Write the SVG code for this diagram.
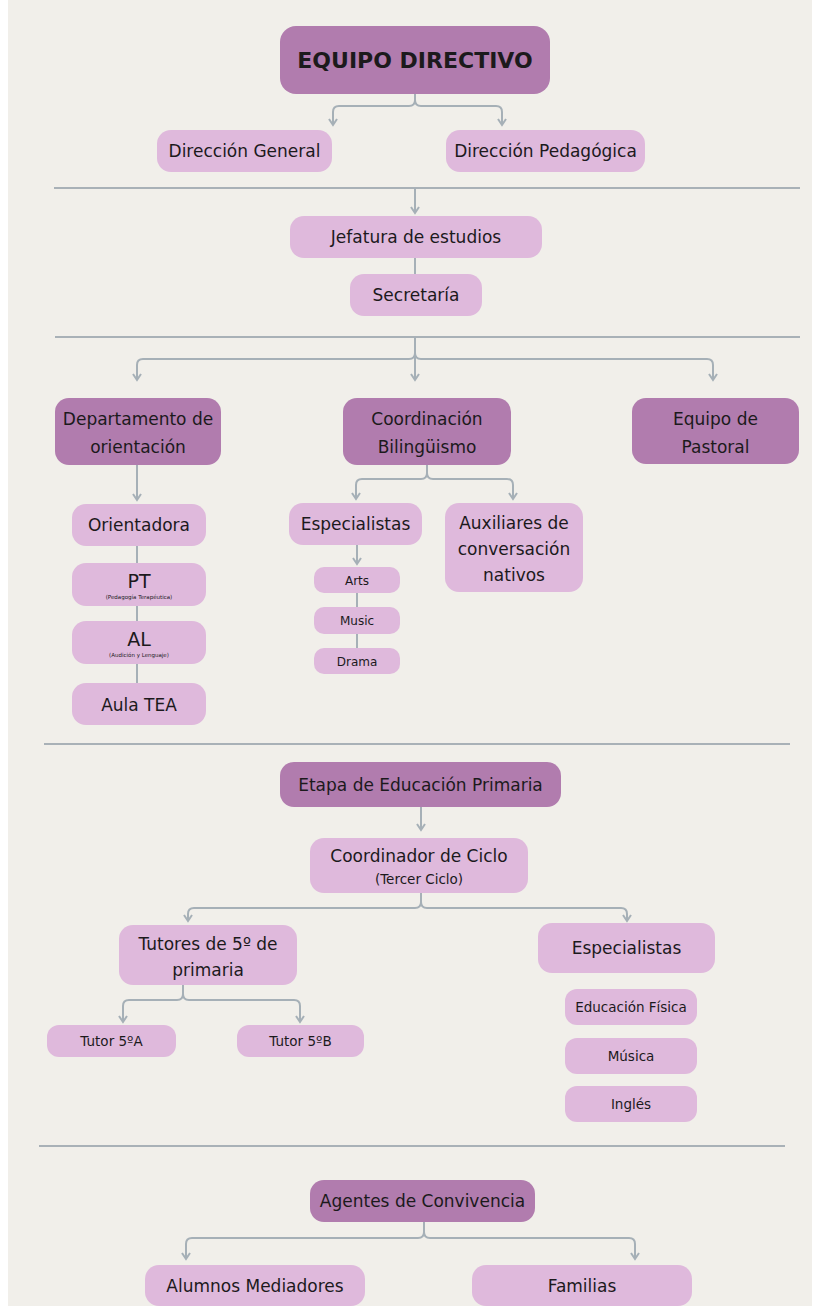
<svg xmlns="http://www.w3.org/2000/svg" width="820" height="1306" viewBox="0 0 820 1306">
<defs>
<style>
.bg{fill:#f1efea}
.dark{fill:#b17cae}
.light{fill:#dfb9dc}
text{font-family:"DejaVu Sans","Liberation Sans",sans-serif;fill:#1c1a1c;text-anchor:middle}
.t18{font-size:17px}
.t16{font-size:15px}
.t14{font-size:13.5px}
.t12{font-size:12px}
.sep{stroke:#a9b1b7;stroke-width:2;fill:none}
.con{stroke:#a6b0b7;stroke-width:2;fill:none}
.arr{marker-end:url(#ah)}
</style>
<marker id="ah" viewBox="0 0 10 10" refX="8" refY="5" markerWidth="10" markerHeight="10" orient="auto" markerUnits="userSpaceOnUse">
<path d="M2,1 L8,5 L2,9" fill="none" stroke="#a6b0b7" stroke-width="2"/>
</marker>
</defs>
<rect width="820" height="1306" fill="#ffffff"/>
<rect class="bg" x="8" y="0" width="804" height="1306"/>

<g id="separators">
<line class="sep" x1="54" y1="188" x2="800" y2="188"/>
<line class="sep" x1="55" y1="337" x2="800" y2="337"/>
<line class="sep" x1="44" y1="744" x2="790" y2="744"/>
<line class="sep" x1="39" y1="1146" x2="785" y2="1146"/>
</g>

<g id="connectors">
<path class="con arr" d="M415,94 V100 Q415,106 409,106 H339 Q333,106 333,112 V125"/>
<path class="con arr" d="M415,94 V100 Q415,106 421,106 H496 Q502,106 502,112 V125"/>
<path class="con arr" d="M415,188 V213"/>
<path class="con" d="M415,258 V274"/>
<path class="con arr" d="M415,337 V380"/>
<path class="con arr" d="M415,347 V353 Q415,359 409,359 H143 Q137,359 137,365 V380"/>
<path class="con arr" d="M415,347 V353 Q415,359 421,359 H707 Q713,359 713,365 V380"/>
<path class="con arr" d="M137,465 V500"/>
<path class="con" d="M137,546 V683"/>
<path class="con arr" d="M427,465 V473 Q427,479 421,479 H362 Q356,479 356,485 V499"/>
<path class="con arr" d="M427,465 V473 Q427,479 433,479 H507 Q513,479 513,485 V499"/>
<path class="con arr" d="M357,545 V564"/>
<path class="con" d="M357,593 V648"/>
<path class="con arr" d="M421,807 V830"/>
<path class="con arr" d="M421,893 V902 Q421,908 415,908 H194 Q188,908 188,914 V921"/>
<path class="con arr" d="M421,893 V902 Q421,908 427,908 H621 Q627,908 627,914 V921"/>
<path class="con arr" d="M183,985 V994 Q183,1000 177,1000 H129 Q123,1000 123,1006 V1022"/>
<path class="con arr" d="M183,985 V994 Q183,1000 189,1000 H294 Q300,1000 300,1006 V1022"/>
<path class="con arr" d="M424,1222 V1232 Q424,1238 418,1238 H192 Q186,1238 186,1244 V1259"/>
<path class="con arr" d="M424,1222 V1232 Q424,1238 430,1238 H629 Q635,1238 635,1244 V1259"/>
</g>

<g id="equipo-directivo">
<rect class="dark" x="280" y="26" width="270" height="68" rx="16"/>
<text x="415" y="68" style="font-size:22px;font-weight:bold">EQUIPO DIRECTIVO</text>
</g>
<g id="direccion-general">
<rect class="light" x="157" y="130" width="175" height="42" rx="14"/>
<text class="t18" x="244.5" y="157">Dirección General</text>
</g>
<g id="direccion-pedagogica">
<rect class="light" x="446" y="130" width="199" height="42" rx="14"/>
<text class="t18" x="545.5" y="157">Dirección Pedagógica</text>
</g>
<g id="jefatura">
<rect class="light" x="290" y="216" width="252" height="42" rx="14"/>
<text class="t18" x="416" y="243">Jefatura de estudios</text>
</g>
<g id="secretaria">
<rect class="light" x="350" y="274" width="132" height="42" rx="14"/>
<text class="t18" x="416" y="301">Secretaría</text>
</g>
<g id="depto-orientacion">
<rect class="dark" x="55" y="398" width="166" height="67" rx="14"/>
<text class="t18" x="138" y="425">Departamento de</text>
<text class="t18" x="138" y="453">orientación</text>
</g>
<g id="coord-bilinguismo">
<rect class="dark" x="343" y="398" width="168" height="67" rx="14"/>
<text class="t18" x="427" y="425">Coordinación</text>
<text class="t18" x="427" y="453">Bilingüismo</text>
</g>
<g id="equipo-pastoral">
<rect class="dark" x="632" y="398" width="167" height="66" rx="14"/>
<text class="t18" x="715.5" y="425">Equipo de</text>
<text class="t18" x="715.5" y="453">Pastoral</text>
</g>
<g id="orientadora">
<rect class="light" x="72" y="504" width="134" height="42" rx="14"/>
<text class="t18" x="139" y="531">Orientadora</text>
</g>
<g id="pt">
<rect class="light" x="72" y="563" width="134" height="43" rx="14"/>
<text x="139" y="588" style="font-size:19px">PT</text>
<text x="139" y="599" style="font-size:5.5px">(Pedagogía Terapéutica)</text>
</g>
<g id="al">
<rect class="light" x="72" y="621" width="134" height="43" rx="14"/>
<text x="139" y="646" style="font-size:19px">AL</text>
<text x="139" y="657" style="font-size:5.5px">(Audición y Lenguaje)</text>
</g>
<g id="aula-tea">
<rect class="light" x="72" y="683" width="134" height="42" rx="14"/>
<text class="t18" x="139" y="711">Aula TEA</text>
</g>
<g id="especialistas-bil">
<rect class="light" x="289" y="503" width="133" height="42" rx="14"/>
<text class="t18" x="355.5" y="530">Especialistas</text>
</g>
<g id="auxiliares">
<rect class="light" x="445" y="503" width="138" height="89" rx="14"/>
<text class="t18" x="514" y="529">Auxiliares de</text>
<text class="t18" x="514" y="555">conversación</text>
<text class="t18" x="514" y="581">nativos</text>
</g>
<g id="arts">
<rect class="light" x="314" y="567" width="86" height="26" rx="10"/>
<text class="t12" x="357" y="585">Arts</text>
</g>
<g id="music">
<rect class="light" x="314" y="607" width="86" height="27" rx="10"/>
<text class="t12" x="357" y="625">Music</text>
</g>
<g id="drama">
<rect class="light" x="314" y="648" width="86" height="26" rx="10"/>
<text class="t12" x="357" y="666">Drama</text>
</g>
<g id="etapa-primaria">
<rect class="dark" x="280" y="762" width="281" height="45" rx="14"/>
<text class="t18" x="420.5" y="791">Etapa de Educación Primaria</text>
</g>
<g id="coordinador-ciclo">
<rect class="light" x="310" y="838" width="218" height="55" rx="14"/>
<text class="t18" x="419" y="862">Coordinador de Ciclo</text>
<text class="t14" x="419" y="884">(Tercer Ciclo)</text>
</g>
<g id="tutores">
<rect class="light" x="119" y="925" width="178" height="60" rx="14"/>
<text class="t18" x="208" y="950">Tutores de 5º de</text>
<text class="t18" x="208" y="976">primaria</text>
</g>
<g id="especialistas-prim">
<rect class="light" x="538" y="923" width="177" height="50" rx="14"/>
<text class="t18" x="626.5" y="954">Especialistas</text>
</g>
<g id="tutor-5a">
<rect class="light" x="47" y="1025" width="129" height="32" rx="12"/>
<text class="t14" x="111.5" y="1046">Tutor 5ºA</text>
</g>
<g id="tutor-5b">
<rect class="light" x="237" y="1025" width="127" height="32" rx="12"/>
<text class="t14" x="300.5" y="1046">Tutor 5ºB</text>
</g>
<g id="educacion-fisica">
<rect class="light" x="565" y="989" width="132" height="36" rx="12"/>
<text class="t14" x="631" y="1012">Educación Física</text>
</g>
<g id="musica">
<rect class="light" x="565" y="1038" width="132" height="36" rx="12"/>
<text class="t14" x="631" y="1061">Música</text>
</g>
<g id="ingles">
<rect class="light" x="565" y="1086" width="132" height="36" rx="12"/>
<text class="t14" x="631" y="1109">Inglés</text>
</g>
<g id="agentes-convivencia">
<rect class="dark" x="310" y="1180" width="225" height="42" rx="14"/>
<text class="t18" x="422.5" y="1207">Agentes de Convivencia</text>
</g>
<g id="alumnos-mediadores">
<rect class="light" x="145" y="1265" width="220" height="41" rx="14"/>
<text class="t18" x="255" y="1292">Alumnos Mediadores</text>
</g>
<g id="familias">
<rect class="light" x="472" y="1265" width="220" height="41" rx="14"/>
<text class="t18" x="582" y="1292">Familias</text>
</g>
</svg>
